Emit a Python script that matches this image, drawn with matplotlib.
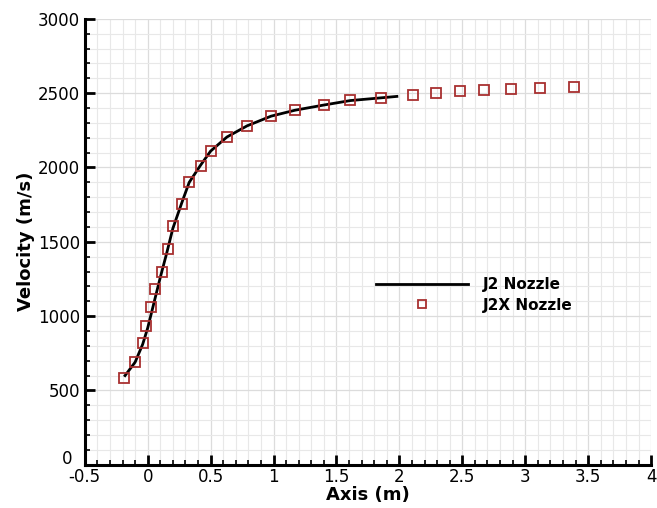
import numpy as np
import matplotlib.pyplot as plt
from matplotlib.ticker import MultipleLocator

# J2 nozzle (line)
j2_x = [-0.18, -0.1, -0.04, 0.0, 0.05, 0.1, 0.15, 0.2, 0.27, 0.33, 0.42, 0.5,
        0.63, 0.79, 0.98, 1.17, 1.4, 1.61, 1.85, 1.98]
j2_v = [600, 690, 810, 920, 1090, 1260, 1420, 1590, 1760, 1900, 2015, 2110,
        2205, 2280, 2345, 2385, 2420, 2450, 2468, 2478]

# J2X nozzle (square markers)
j2x_x = [-0.19, -0.10, -0.04, -0.01, 0.03, 0.06, 0.11, 0.16, 0.20, 0.27, 0.33,
         0.42, 0.50, 0.63, 0.79, 0.98, 1.17, 1.40, 1.61, 1.85, 2.11, 2.29,
         2.48, 2.67, 2.89, 3.12, 3.39]
j2x_v = [587, 691, 818, 935, 1060, 1184, 1296, 1450, 1603, 1755, 1905,
         2011, 2114, 2208, 2282, 2349, 2387, 2421, 2455, 2470, 2488, 2500,
         2511, 2520, 2528, 2533, 2540]

xticks = [-0.5, 0, 0.5, 1, 1.5, 2, 2.5, 3, 3.5, 4]
xlabels = ['-0.5', '0', '0.5', '1', '1.5', '2', '2.5', '3', '3.5', '4']
yticks = [0, 500, 1000, 1500, 2000, 2500, 3000]
ylabels = ['', '500', '1000', '1500', '2000', '2500', '3000']  # "0" drawn separately

fig = plt.figure(figsize=(6.57, 5.08), dpi=100)
ax = fig.add_axes([0.129, 0.085, 0.862, 0.878])

ax.plot(j2_x, j2_v, color='black', lw=2, label='J2 Nozzle', zorder=3)
ax.plot(j2x_x, j2x_v, ls='none', marker='s', ms=7.5, mfc='none', mec='#a83030',
        mew=1.3, label='J2X Nozzle', zorder=4)

ax.set_xlim(-0.5, 4)
ax.set_ylim(0, 3000)
ax.xaxis.set_minor_locator(MultipleLocator(0.1))
ax.yaxis.set_minor_locator(MultipleLocator(100))
ax.set_xticks(xticks)
ax.set_xticklabels(xlabels)
ax.set_yticks(yticks)
ax.set_yticklabels(ylabels)

ax.grid(which='major', color='#dcdcdc', lw=0.9)
ax.grid(which='minor', color='#e8e8e8', lw=0.8)
ax.set_axisbelow(True)

for s in ['top', 'right']:
    ax.spines[s].set_visible(False)
for s in ['left', 'bottom']:
    ax.spines[s].set_linewidth(2.2)

ax.tick_params(which='major', direction='in', length=7, width=2, labelsize=12,
               colors='black')
ax.tick_params(axis='x', which='major', pad=2)
ax.tick_params(which='minor', direction='in', length=3.5, width=1.2)

# the "0" on the y axis sits a little higher, clear of "-0.5"
ax.annotate('0', xy=(0, 0), xycoords='axes fraction', xytext=(-9, 4),
            textcoords='offset points', ha='right', va='center', fontsize=12)

ax.set_xlabel('Axis (m)', fontsize=13, fontweight='bold', labelpad=0)
ax.set_ylabel('Velocity (m/s)', fontsize=13, fontweight='bold', labelpad=2)

ax.legend(loc='center left', bbox_to_anchor=(1.816, 1143), bbox_transform=ax.transData,
          frameon=False, handlelength=6.0, prop={'weight': 'bold', 'size': 11},
          markerscale=0.75, labelspacing=0.35, handletextpad=1.0,
          borderpad=0, borderaxespad=0)

fig.savefig('out.png', dpi=100)
